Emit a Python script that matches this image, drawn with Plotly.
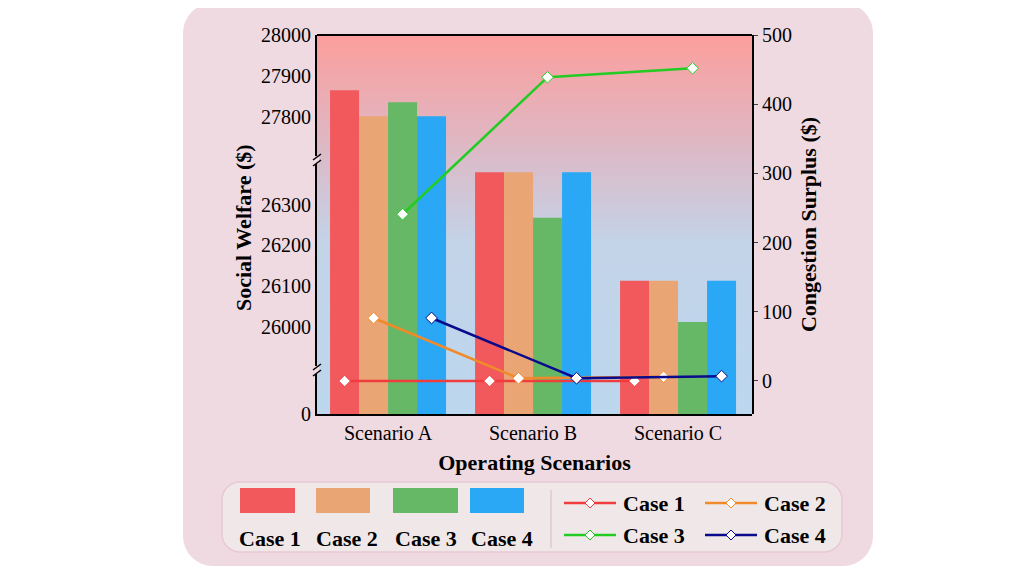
import plotly.graph_objects as go
import base64

scenarios = ["Scenario A", "Scenario B", "Scenario C"]
cases = ["Case 1", "Case 2", "Case 3", "Case 4"]
welfare = {
    "Case 1": [27865, 26380, 26113],
    "Case 2": [27802, 26380, 26113],
    "Case 3": [27836, 26268, 26012],
    "Case 4": [27802, 26380, 26113],
}
surplus = {
    "Case 1": [0, 0, 0],
    "Case 2": [91, 4, 6],
    "Case 3": [241, 439, 452],
    "Case 4": [91, 4, 7],
}
bar_colors = ["#F2595D", "#E9A574", "#66B866", "#2AA8F5"]
line_colors = ["#F03C3C", "#F08A2A", "#22CC22", "#0A0A8C"]
offsets = [-0.3, -0.1, 0.1, 0.3]

O = 8  # page body margin
W, H = 1015 - O, 569 - O
L, R, T, B = 317, 752, 35, 414
pw, ph = R - L, B - T
def px(x): return (x - L) / pw
def py(y): return (B - y) / ph

FONT = "Liberation Serif"
fig = go.Figure()
xs = [0, 1, 2]
axes = ["y", "y2", "y3"]
for ax in axes:
    for i, c in enumerate(cases):
        fig.add_trace(go.Bar(x=xs, y=welfare[c], marker_color=bar_colors[i], marker_line_width=0,
                             yaxis=ax, xaxis="x", showlegend=False, width=0.2, offset=offsets[i] - 0.1))
for i, c in enumerate(cases):
    fig.add_trace(go.Scatter(x=[v + offsets[i] for v in xs], y=surplus[c], mode="lines+markers",
                             line=dict(color=line_colors[i], width=2.5),
                             marker=dict(symbol="diamond", size=9, color="white",
                                         line=dict(color=line_colors[i], width=1)),
                             yaxis="y4", xaxis="x", showlegend=False))

d1 = 44 / ph
d2 = (B - 160) / ph
tf = dict(family=FONT, size=20, color="black")
TTL = dict(family=FONT, size=22, color="black")
def tv(v): return dict(tickvals=v, ticktext=[str(x) for x in v])
fig.update_layout(
    width=W, height=H, margin=dict(l=L - O, r=1015 - R, t=T - O, b=569 - B),
    paper_bgcolor="white", plot_bgcolor="rgba(0,0,0,0)", barmode="overlay",
    xaxis=dict(range=[-0.49, 2.51], tickvals=xs, ticktext=scenarios, tickfont=tf,
               showline=True, linecolor="black", linewidth=2, showgrid=False, zeroline=False,
               title=dict(text="<b>Operating Scenarios</b>", font=TTL, standoff=12)),
    yaxis=dict(domain=[0, d1], range=[0, 25894], **tv([0]), tickfont=tf, showgrid=False,
               zeroline=False, showline=True, linecolor="black", linewidth=2),
    yaxis2=dict(domain=[d1, d2], range=[25894, 26410], **tv([26000, 26100, 26200, 26300]), tickfont=tf,
                showgrid=False, zeroline=False, showline=True, linecolor="black", linewidth=2, anchor="x"),
    yaxis3=dict(domain=[d2, 1], range=[27695, 28000], **tv([27800, 27900, 28000]), tickfont=tf,
                showgrid=False, zeroline=False, showline=True, linecolor="black", linewidth=2, anchor="x"),
    yaxis4=dict(domain=[0, 1], range=[-47.7, 500], side="right", anchor="x", **tv([0, 100, 200, 300, 400, 500]),
                tickfont=tf, showgrid=False, zeroline=False, showline=True, linecolor="black", linewidth=2,
                ticks="outside", ticklen=4,
                title=dict(text="<b>Congestion Surplus ($)</b>", font=TTL, standoff=10)),
)

svg = f'''<svg xmlns="http://www.w3.org/2000/svg" width="1015" height="569" viewBox="0 0 1015 569">
<defs><linearGradient id="g" x1="0" y1="0" x2="0" y2="1">
<stop offset="0" stop-color="#FC9E9C"/><stop offset="0.3" stop-color="#DDB9C6"/>
<stop offset="0.55" stop-color="#C3D3E8"/><stop offset="1" stop-color="#BCD7EE"/></linearGradient></defs>
<rect x="183" y="3" width="690" height="563" rx="30" ry="30" fill="#EFDAE1"/>
<rect x="222" y="482" width="620" height="70" rx="18" ry="18" fill="#F0E8E8" stroke="#E8C8D4" stroke-width="1.5"/>
<rect x="{L}" y="{T}" width="{pw}" height="{ph}" fill="url(#g)"/>
<line x1="{L}" y1="{T}" x2="{R}" y2="{T}" stroke="black" stroke-width="2"/>
</svg>'''
uri = "data:image/svg+xml;base64," + base64.b64encode(svg.encode()).decode()
fig.add_layout_image(source=uri, xref="paper", yref="paper", x=px(0), y=py(0),
                     sizex=1015 / pw, sizey=569 / ph, sizing="stretch", xanchor="left", yanchor="top", layer="below")

shapes = []
annots = []
for yb in [160, 370]:
    shapes.append(dict(type="line", xref="paper", yref="paper", x0=px(L), x1=px(L), y0=py(yb - 4), y1=py(yb + 4),
                       line=dict(color="#EFDAE1", width=4)))
    for dy in [-3, 3]:
        shapes.append(dict(type="line", xref="paper", yref="paper", x0=px(L - 4), x1=px(L + 4),
                           y0=py(yb + dy + 3), y1=py(yb + dy - 3), line=dict(color="black", width=1.5)))
annots.append(dict(text="<b>Social Welfare ($)</b>", xref="paper", yref="paper", x=px(243), y=py(228),
                   xanchor="center", yanchor="middle",
                   textangle=-90, showarrow=False, font=TTL))
brects = [(240, 295), (316, 370), (393, 458), (470, 524)]
bcent = [270, 347, 426, 502]
for i, (a, b) in enumerate(brects):
    shapes.append(dict(type="rect", xref="paper", yref="paper", x0=px(a), x1=px(b), y0=py(513), y1=py(488),
                       fillcolor=bar_colors[i], line_width=0))
    annots.append(dict(text=f"<b>{cases[i]}</b>", xref="paper", yref="paper", x=px(bcent[i]), y=py(538),
                       xanchor="center", yanchor="middle", showarrow=False, font=TTL))
shapes.append(dict(type="line", xref="paper", yref="paper", x0=px(551), x1=px(551), y0=py(490), y1=py(548),
                   line=dict(color="#D8B8C4", width=1)))
lpos = [(564, 503), (705, 503), (564, 535), (705, 535)]
for i, (x0, y0) in enumerate(lpos):
    shapes.append(dict(type="line", xref="paper", yref="paper", x0=px(x0), x1=px(x0 + 52), y0=py(y0), y1=py(y0),
                       line=dict(color=line_colors[i], width=2.5)))
    cx = x0 + 26
    path = f"M {px(cx-5)} {py(y0)} L {px(cx)} {py(y0-5)} L {px(cx+5)} {py(y0)} L {px(cx)} {py(y0+5)} Z"
    shapes.append(dict(type="path", xref="paper", yref="paper", path=path, fillcolor="white",
                       line=dict(color=line_colors[i], width=1)))
    annots.append(dict(text=f"<b>{cases[i]}</b>", xref="paper", yref="paper", x=px(x0 + 57), y=py(y0),
                       xanchor="left", yanchor="middle", showarrow=False, font=TTL))
fig.update_layout(shapes=shapes, annotations=annots)
fig.write_html("out.html")
